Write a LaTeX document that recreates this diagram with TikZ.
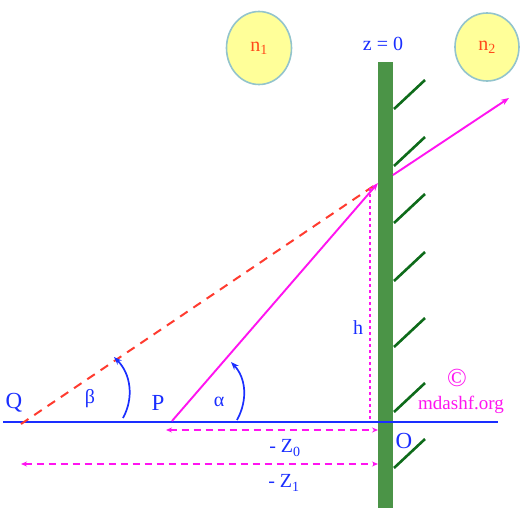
\documentclass[tikz,border=0pt]{standalone}
\usepackage{fontspec}
\setmainfont{Liberation Serif}
\usetikzlibrary{shapes.geometric,arrows.meta}
\definecolor{medyellow}{HTML}{FFFF99}
\definecolor{medborder}{HTML}{93C4CC}
\definecolor{bargreen}{HTML}{4B9447}
\definecolor{hatchgreen}{HTML}{0E6B1A}
\definecolor{axisblue}{HTML}{1A2EFF}
\definecolor{raymag}{HTML}{FF14F0}
\definecolor{rayred}{HTML}{FF3B2F}
\definecolor{labelorange}{HTML}{FF4A1A}
\tikzset{
  medium/.style={ellipse, fill=medyellow, draw=medborder, line width=1.6pt, text=labelorange, font=\fontsize{20}{21}\selectfont, inner sep=0pt},
  hatchline/.style={hatchgreen, line width=2.6pt},
  ray/.style={raymag, line width=1.9pt, -{Stealth[length=8pt,width=6pt]}},
  virtualray/.style={rayred, line width=2pt, dash pattern=on 9pt off 7pt},
  dimarrow/.style={raymag, line width=1.5pt, dash pattern=on 7pt off 5pt, {Stealth[length=6pt,width=5pt]}-{Stealth[length=6pt,width=5pt]}},
  heightline/.style={raymag, line width=1.5pt, dash pattern=on 3pt off 3pt},
  anglearc/.style={axisblue, line width=1.7pt, -{Stealth[length=8pt,width=6pt]}},
  lbl/.style={text=axisblue, font=\fontsize{20}{21}\selectfont, inner sep=0pt},
  biglbl/.style={text=axisblue, font=\fontsize{23}{24}\selectfont, inner sep=0pt},
  marklbl/.style={text=raymag, font=\fontsize{19}{20}\selectfont, inner sep=0pt},
  copylbl/.style={text=raymag, font=\fontsize{26}{27}\selectfont, inner sep=0pt}
}
\begin{document}
\begin{tikzpicture}[x=1pt,y=-1pt]
\useasboundingbox (0,0) rectangle (531,517);
% media
\node[medium, minimum width=65pt, minimum height=73pt] (n1) at (259,48) {n\textsubscript{1}};
\node[medium, minimum width=64pt, minimum height=68pt] (n2) at (487,47) {n\textsubscript{2}};
\node[lbl] (z0) at (383,44) {z = 0};
% boundary
\fill[bargreen] (378,62) rectangle (393,508);
\foreach \yy in {109,166,223,281,347,412,468} {
  \draw[hatchline] (394,\yy) -- ++(31,-29);
}
% axis
\coordinate (axL) at (3,422);
\coordinate (axR) at (498,422);
\draw[axisblue, line width=2.8pt] (axL) -- (axR);
% points
\coordinate (Q) at (21,424);
\coordinate (P) at (172,421);
\coordinate (I) at (378,183);
\coordinate (I2) at (393,175);
\coordinate (E) at (509,98);
\coordinate (Htop) at (370,188);
\coordinate (Hbot) at (370,421);
% rays
\draw[virtualray] (Q) -- (I);
\draw[ray] (P) -- (I);
\draw[ray] (I2) -- (E);
\draw[heightline] (Htop) -- (Hbot);
% dimensions
\coordinate (Z0L) at (166,430);
\coordinate (Z0R) at (378,430);
\coordinate (Z1L) at (21,464);
\coordinate (Z1R) at (378,464);
\draw[dimarrow] (Z0L) -- (Z0R);
\draw[dimarrow] (Z1L) -- (Z1R);
% angle arcs
\coordinate (a0) at (237,420);
\coordinate (a1) at (231,362);
\coordinate (b0) at (123,418);
\coordinate (b1) at (114,357);
\draw[anglearc] (a0) .. controls (248,400) and (246,378) .. (a1);
\draw[anglearc] (b0) .. controls (134,398) and (131,374) .. (b1);
% labels
\node[biglbl] (Qlbl) at (14,403) {Q};
\node[biglbl] (Plbl) at (158,403) {P};
\node[biglbl] (Olbl) at (404,441) {O};
\node[lbl] (beta) at (90,399) {β};
\node[lbl] (alpha) at (219,402) {α};
\node[lbl] (hlbl) at (358,328) {h};
\node[lbl] (Z0lbl) at (285,448) {- Z\textsubscript{0}};
\node[lbl] (Z1lbl) at (284,483) {- Z\textsubscript{1}};
\node[copylbl] (copy) at (457,378) {©};
\node[marklbl] (site) at (461,405) {mdashf.org};
\end{tikzpicture}
\end{document}
